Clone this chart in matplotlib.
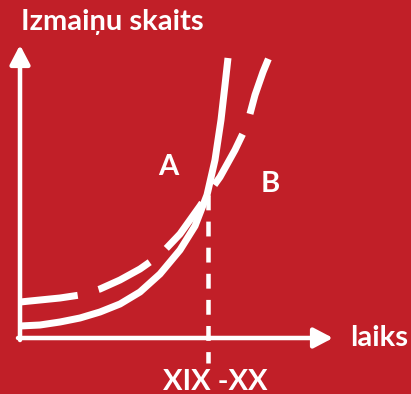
import matplotlib
matplotlib.use("Agg")
import matplotlib.pyplot as plt

# ===============================
# Datos (origen = cruce de ejes)
# ===============================
BG = "#C11F28"
FG = "white"

# curva A (continua)
a_x = [0, 20, 40, 60, 80, 100, 120, 140, 160, 175, 187, 195, 201, 205, 208]
a_y = [12, 13, 16, 20, 26, 34, 46, 64, 88, 112, 143, 178, 218, 253, 280]

# curva B (discontinua)
b_x = [0, 20, 40, 60, 80, 100, 120, 140, 160, 180, 190, 200, 215, 227, 235, 243, 250]
b_y = [36, 38, 40, 43, 49, 58, 69, 83, 104, 132, 147, 161, 188, 213, 243, 266, 283]

cross_x = 188      # XIX - XX
cross_y = 143

title = "Izmaiņu skaits"
xlabel = "laiks"
period = "XIX -XX"

fig = plt.figure(figsize=(4.11, 3.94), dpi=100, facecolor=BG)
ax = fig.add_axes([0, 0, 1, 1])
ax.set_facecolor(BG)
ax.set_xlim(-20, 391)
ax.set_ylim(-56, 338)
ax.axis("off")

px = 0.72  # 1 pixel en puntos

# ejes con flechas
arrow = dict(arrowstyle="-|>,head_length=0.8,head_width=0.42", color=FG,
             lw=4.5 * px, mutation_scale=14.4, shrinkA=0, shrinkB=0)
ax.annotate("", xy=(0, 293), xytext=(0, -2), arrowprops=arrow)
ax.annotate("", xy=(313, 0), xytext=(-2, 0), arrowprops=arrow)

# curvas
ax.plot(a_x, a_y, color=FG, lw=7 * px, solid_capstyle="butt")
line_b, = ax.plot(b_x, b_y, color=FG, lw=7 * px, dash_capstyle="butt")
line_b.set_dashes((8.3, 3.1))

# linea vertical
vline, = ax.plot([cross_x, cross_x], [cross_y, -25], color=FG, lw=4.5 * px,
                 dash_capstyle="butt")
vline.set_dashes((3.3, 2.5))

# textos
font = "Lato"
fs = 21
ax.text(1, 316, title, color=FG, fontsize=fs, fontweight="bold",
        family=font, va="center", ha="left")
ax.text(330, 0, xlabel, color=FG, fontsize=fs, fontweight="bold",
        family=font, va="center", ha="left")
ax.text(195, -44, period, color=FG, fontsize=fs, fontweight="bold",
        family=font, va="center", ha="center")
ax.text(148, 171, "A", color=FG, fontsize=fs, fontweight="bold",
        family=font, va="center", ha="center")
ax.text(250, 154, "B", color=FG, fontsize=fs, fontweight="bold",
        family=font, va="center", ha="center")

fig.savefig("out.png", dpi=100, facecolor=BG)
